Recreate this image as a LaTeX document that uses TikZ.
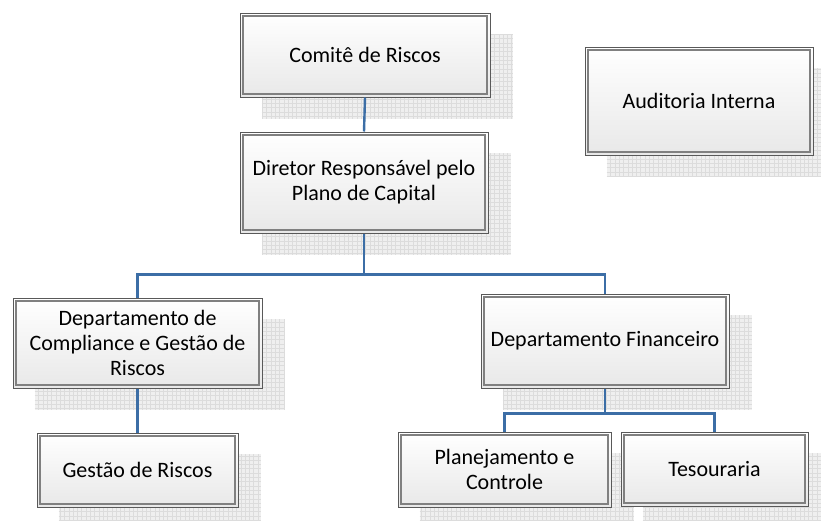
\documentclass[tikz,border=0pt]{standalone}
\usepackage{fontspec}
\setmainfont{Carlito}
\usetikzlibrary{calc}
\pgfdeclarelayer{background}
\pgfsetlayers{background,main}
\definecolor{linkblue}{HTML}{3C6EA6}
\definecolor{shadowbg}{HTML}{EFEFEF}
\definecolor{shadowline}{HTML}{DCDCDC}
\tikzset{
orgbox/.style={draw=black!65, line width=1pt, rectangle, align=center,
  top color=white, bottom color=black!9,
  font=\fontsize{22}{25}\selectfont,
  path picture={\draw[black!50, line width=1.3pt]
    ([shift={(3pt,-3pt)}]path picture bounding box.north west) rectangle
    ([shift={(-3pt,3pt)}]path picture bounding box.south east);}},
link/.style={draw=linkblue, line width=2.4pt},
shadowgrid/.style={draw=shadowline, line width=0.45pt, step=4.3pt}
}

\begin{document}
\begin{tikzpicture}[x=1pt, y=-1pt]
    \useasboundingbox (0,0) rectangle (821,520);
    \node[orgbox, minimum width=250pt, minimum height=84pt] (komite) at (365,55) {Comitê de Riscos};
    \node[orgbox, minimum width=248pt, minimum height=101pt] (diretor) at (364,182.5) {Diretor Responsável pelo\\Plano de Capital};
    \node[orgbox, minimum width=228pt, minimum height=108pt] (auditoria) at (699,101) {Auditoria Interna};
    \node[orgbox, minimum width=249pt, minimum height=90pt] (compliance) at (137.5,343) {Departamento de\\Compliance e Gestão de\\Riscos};
    \node[orgbox, minimum width=248pt, minimum height=94pt] (financeiro) at (605,341) {Departamento Financeiro};
    \node[orgbox, minimum width=201pt, minimum height=74pt] (gestao) at (137.5,470) {Gestão de Riscos};
    \node[orgbox, minimum width=213pt, minimum height=75pt] (planejamento) at (504.5,469.5) {Planejamento e\\Controle};
    \node[orgbox, minimum width=187pt, minimum height=74pt] (tesouraria) at (714.5,469) {Tesouraria};

    % shadows behind the boxes
    \begin{pgfonlayer}{background}
      \foreach \n in {komite,diretor,auditoria,compliance,financeiro,gestao,planejamento,tesouraria}{
        \fill[shadowbg] ([shift={(22pt,-21pt)}]\n.north west) rectangle ([shift={(22pt,-21pt)}]\n.south east);
        \draw[shadowgrid] ([shift={(22pt,-21pt)}]\n.north west) grid ([shift={(22pt,-21pt)}]\n.south east);
      }
    \end{pgfonlayer}

    % connectors
    \draw[link] (komite.south) -- (diretor.north);
    \draw[link] (diretor.south) -- ++(0,41) coordinate (jdir) -| (compliance.north);
    \draw[link] (jdir) -| (financeiro.north);
    \draw[link] (compliance.south) -- (gestao.north);
    \draw[link] (financeiro.south) -- ++(0,25) coordinate (jfin) -| (planejamento.north);
    \draw[link] (jfin) -| (tesouraria.north);
  \end{tikzpicture}
\end{document}
